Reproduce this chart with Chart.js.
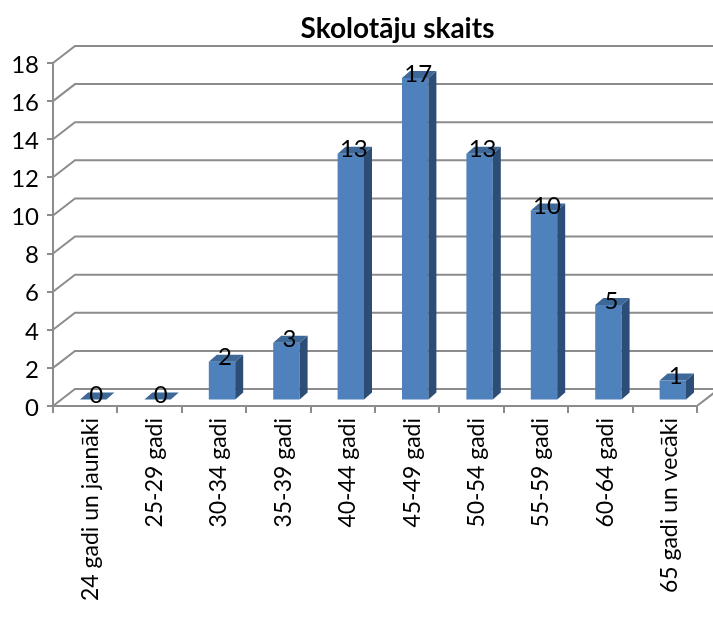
<!DOCTYPE html>
<html>
<head>
<meta charset="utf-8">
<script src="https://cdn.jsdelivr.net/npm/chart.js@4"></script>
<style>
  html, body { margin: 0; padding: 0; background: #fff; }
  #box { width: 713px; height: 623px; }
</style>
</head>
<body>
<div id="box"><canvas id="chart"></canvas></div>
<script>
const categories = ["24 gadi un jaunāki", "25-29 gadi", "30-34 gadi", "35-39 gadi", "40-44 gadi",
  "45-49 gadi", "50-54 gadi", "55-59 gadi", "60-64 gadi", "65 gadi un vecāki"];
const skaits = [0, 0, 2, 3, 13, 17, 13, 10, 5, 1];
const chartTitle = "Skolotāju skaits";

const FONT = "Lato, sans-serif";
const AXIS_COLOR = "#8c8c8c";

// depth of the back wall and of the bars
const wallDx = 22, wallDy = 17;
const barDx = 8, barDy = 6.5;
const sideDx = 8, sideDy = 7;

const fake3d = {
  id: "fake3d",
  afterLayout(chart) {
    // title sits right of the plot centre
    chart.titleBlock.left += 49;
    chart.titleBlock.right += 49;
  },
  beforeDatasetsDraw(chart) {
    const { ctx, scales: { x, y } } = chart;
    ctx.save();
    ctx.strokeStyle = AXIS_COLOR;
    ctx.lineWidth = 2;
    y.ticks.forEach(t => {
      const py = y.getPixelForValue(t.value);
      ctx.beginPath();
      ctx.moveTo(x.left, py);
      ctx.lineTo(x.left + wallDx, py - wallDy);
      ctx.lineTo(chart.width, py - wallDy);
      ctx.stroke();
    });
    // floor edge on the right
    const y0 = y.getPixelForValue(0);
    ctx.beginPath();
    ctx.moveTo(x.right, y0);
    ctx.lineTo(x.right + wallDx, y0 - wallDy);
    ctx.stroke();
    ctx.restore();
  },
  beforeDatasetDraw(chart) {
    chart.ctx.save();
    chart.ctx.translate(barDx, -barDy);
  },
  afterDatasetDraw(chart, args) {
    const ctx = chart.ctx;
    args.meta.data.forEach(bar => {
      const l = bar.x - bar.width / 2, r = bar.x + bar.width / 2;
      // side face
      ctx.fillStyle = "#2c4d75";
      ctx.beginPath();
      ctx.moveTo(r, bar.y);
      ctx.lineTo(r + sideDx, bar.y - sideDy);
      ctx.lineTo(r + sideDx, bar.base - sideDy);
      ctx.lineTo(r, bar.base);
      ctx.closePath();
      ctx.fill();
      // top face
      ctx.fillStyle = "#3d6898";
      ctx.beginPath();
      ctx.moveTo(l, bar.y);
      ctx.lineTo(l + sideDx, bar.y - sideDy);
      ctx.lineTo(r + sideDx, bar.y - sideDy);
      ctx.lineTo(r, bar.y);
      ctx.closePath();
      ctx.fill();
    });
    // value labels
    ctx.fillStyle = "#000";
    ctx.font = "24px " + FONT;
    ctx.textAlign = "center";
    ctx.textBaseline = "middle";
    args.meta.data.forEach((bar, i) => {
      ctx.fillText(String(skaits[i]), bar.x + 3, bar.y - 4);
    });
    ctx.restore();
  }
};

new Chart(document.getElementById("chart"), {
  type: "bar",
  data: {
    labels: categories,
    datasets: [{
      data: skaits,
      yAxisID: "yBar",
      backgroundColor: "#4f81bd",
      borderWidth: 0,
      categoryPercentage: 1,
      barPercentage: 0.41,
      clip: false
    }]
  },
  options: {
    responsive: true,
    maintainAspectRatio: false,
    animation: false,
    layout: { padding: { right: 16 } },
    plugins: {
      legend: { display: false },
      tooltip: { enabled: false },
      title: {
        display: true,
        text: chartTitle,
        color: "#000",
        font: { family: FONT, size: 28, weight: "bold" },
        padding: { top: 12, bottom: 17.4 }
      }
    },
    scales: {
      x: {
        afterFit(axis) { axis.height = 217; },
        grid: { drawOnChartArea: false, color: AXIS_COLOR, lineWidth: 2, tickLength: 7 },
        border: { color: AXIS_COLOR, width: 2 },
        ticks: {
          autoSkip: false,
          minRotation: 90,
          maxRotation: 90,
          labelOffset: 5,
          padding: 5,
          color: "#000",
          font: { family: FONT, size: 23 }
        }
      },
      y: {
        min: 0,
        max: 18,
        afterFit(axis) { axis.width = 53; },
        grid: { drawOnChartArea: false, color: AXIS_COLOR, lineWidth: 2, tickLength: 6 },
        border: { color: AXIS_COLOR, width: 2 },
        ticks: {
          stepSize: 2,
          padding: 8,
          labelOffset: 2,
          color: "#000",
          font: { family: FONT, size: 24 }
        }
      },
      // bars stand slightly further back, so they are a touch shorter than the front axis
      yBar: { display: false, min: 0, max: 18.14 }
    }
  },
  plugins: [fake3d]
});
</script>
</body>
</html>
